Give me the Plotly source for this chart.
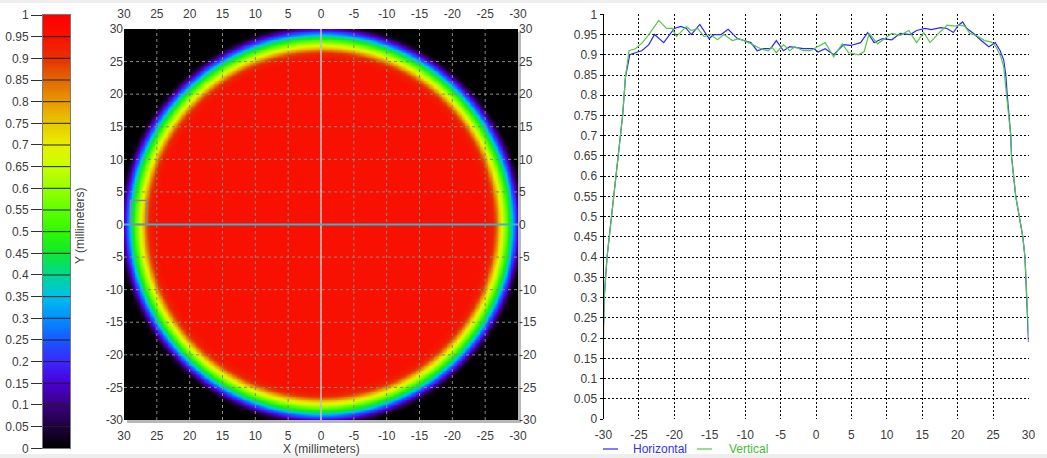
import numpy as np
import plotly.graph_objects as go

# ---------------- data ----------------
# Horizontal profile (blue)
h_x = [-30, -29.9, -29.5, -28.9, -28.25, -27.6, -27.3, -26.9, -26.5, -26.3, -25.5, -24.6, -23.6,
       -22.8, -21.5, -20.8, -20.0, -19.1, -18.3, -17.6, -16.4, -15.1, -14.4, -13.4, -12.4, -11.1,
       -9.2, -8.3, -7.4, -6.4, -5.6, -4.6, -3.7, -1.8, -0.9, -0.3, 0.3, 1.3, 2.5, 3.9, 4.9, 6.3,
       7.3, 8.2, 9.4, 10.7, 11.9, 13.3, 14.2, 15.4, 16.3, 17.6, 18.5, 19.4, 20.1, 20.7, 21.3, 22.2,
       23.2, 24.4, 25.3, 26.0, 26.5, 26.8, 27.0, 27.3, 27.5, 27.6, 27.9, 28.2, 28.7, 29.2, 29.5,
       29.6, 29.75, 29.9, 30.0]
h_y = [0.23, 0.30, 0.40, 0.50, 0.60, 0.70, 0.75, 0.845, 0.885, 0.90, 0.905, 0.91, 0.925,
       0.95, 0.93, 0.945, 0.965, 0.97, 0.965, 0.95, 0.975, 0.94, 0.95, 0.95, 0.963, 0.94,
       0.93, 0.91, 0.915, 0.915, 0.935, 0.91, 0.92, 0.915, 0.915, 0.915, 0.907, 0.915, 0.90, 0.925, 0.923, 0.93,
       0.955, 0.93, 0.94, 0.937, 0.953, 0.95, 0.96, 0.965, 0.962, 0.967, 0.965, 0.955, 0.973, 0.981, 0.965, 0.953,
       0.937, 0.92, 0.93, 0.91, 0.887, 0.85, 0.80, 0.74, 0.70, 0.65, 0.60, 0.55, 0.50, 0.45, 0.40,
       0.35, 0.30, 0.25, 0.19]

# Vertical profile (green)
v_x = [-30, -29.9, -29.5, -28.9, -28.25, -27.6, -27.3, -26.9, -26.6, -26.4, -25.5, -24.5, -23.6,
       -22.2, -21.1, -20.3, -19.7, -18.3, -17.6, -16.7, -15.8, -14.9, -13.9, -13.0, -11.8, -10.9,
       -9.5, -7.8, -6.7, -6.3, -5.6, -4.6, -3.7, -3.0, -1.8, -0.8, 1.3, 2.5, 3.7, 4.6, 6.0, 6.8,
       7.5, 8.7, 10.7, 11.9, 13.1, 14.2, 15.2, 16.1, 17.3, 18.5, 19.6, 20.3, 21.0, 21.7, 22.6,
       23.8, 24.7, 25.4, 26.1, 26.5, 26.9, 27.3, 27.5, 27.6, 27.9, 28.2, 28.7, 29.2, 29.5,
       29.6, 29.75, 29.9, 30.0]
v_y = [0.19, 0.30, 0.40, 0.50, 0.60, 0.70, 0.75, 0.845, 0.89, 0.91, 0.915, 0.93, 0.95,
       0.985, 0.965, 0.965, 0.945, 0.97, 0.96, 0.965, 0.945, 0.95, 0.937, 0.95, 0.935, 0.94,
       0.93, 0.915, 0.91, 0.92, 0.905, 0.925, 0.91, 0.92, 0.91, 0.91, 0.93, 0.895, 0.927, 0.905, 0.90, 0.908,
       0.953, 0.927, 0.953, 0.948, 0.96, 0.93, 0.955, 0.93, 0.953, 0.973, 0.971, 0.973, 0.971, 0.953, 0.948,
       0.935, 0.932, 0.92, 0.895, 0.87, 0.80, 0.74, 0.70, 0.65, 0.60, 0.55, 0.50, 0.45, 0.40,
       0.35, 0.30, 0.25, 0.21]

series_names = ["Horizontal", "Vertical"]
series_colors = ["#2828ff", "#55c844"]
series_text_colors = ["#3030ff", "#44bb33"]

# Radial intensity profile of the beam image (radius mm -> normalised intensity)
beam_r = [0, 25.0, 26.0, 26.5, 27.0, 27.5, 28.0, 28.5, 29.0, 29.5, 30.0, 30.5, 31.0, 45.0]
beam_v = [0.95, 0.95, 0.93, 0.88, 0.78, 0.68, 0.58, 0.48, 0.38, 0.25, 0.14, 0.04, 0.0, 0.0]

# Colour map stops
cmap_levels = [0.0, 0.05, 0.10, 0.15, 0.20, 0.25, 0.30, 0.35, 0.40, 0.45, 0.50,
               0.55, 0.60, 0.65, 0.70, 0.75, 0.80, 0.85, 0.90, 0.95, 1.0]
cmap_colors = ["#000000", "#200040", "#3a0080", "#4a00d8", "#3a28ff", "#1858ff", "#0090ff",
               "#00c0e8", "#00d890", "#10e830", "#30f800", "#60ff00", "#98ff00", "#c8ff00",
               "#e8f000", "#e8c800", "#e89800", "#e06800", "#e83000", "#f81000", "#ff0000"]

mm_ticks = [30, 25, 20, 15, 10, 5, 0, -5, -10, -15, -20, -25, -30]
mm_labels = ["30", "25", "20", "15", "10", "5", "0", "-5", "-10", "-15", "-20", "-25", "-30"]
px_ticks = [-30, -25, -20, -15, -10, -5, 0, 5, 10, 15, 20, 25, 30]
px_labels = ["-30", "-25", "-20", "-15", "-10", "-5", "0", "5", "10", "15", "20", "25", "30"]
val_ticks = [0, 0.05, 0.1, 0.15, 0.2, 0.25, 0.3, 0.35, 0.4, 0.45, 0.5,
             0.55, 0.6, 0.65, 0.7, 0.75, 0.8, 0.85, 0.9, 0.95, 1]

# ---------------- helpers ----------------
W, H = 1047, 458
def fx(p):
    return p / W
def fy(p):
    return 1 - p / H

colorscale = [[l, c] for l, c in zip(cmap_levels, cmap_colors)]
FONT = dict(family="Liberation Sans, Arial, sans-serif", size=12, color="#3c3c3c")

# beam image grid derived from the radial profile
g = np.arange(-30, 30.001, 0.25)
GX, GY = np.meshgrid(g, g)
Z = np.round(np.interp(np.sqrt(GX ** 2 + GY ** 2), beam_r, beam_v), 3)

fig = go.Figure()

fig.add_trace(go.Heatmap(x=g, y=g, z=Z, colorscale=colorscale, zmin=0, zmax=1,
                         showscale=False, zsmooth="best", xaxis="x", yaxis="y",
                         hoverinfo="skip"))
fig.add_trace(go.Scatter(x=[None], y=[None], xaxis="x4", yaxis="y4", showlegend=False,
                         hoverinfo="skip"))

cb_vals = np.linspace(0, 1, 201)
fig.add_trace(go.Heatmap(x=[0], y=cb_vals, z=[[v] for v in cb_vals], colorscale=colorscale,
                         zmin=0, zmax=1, showscale=False, xaxis="x3", yaxis="y3",
                         hoverinfo="skip"))

for xs, ys, nm, col in zip([h_x, v_x], [h_y, v_y], series_names, series_colors):
    fig.add_trace(go.Scatter(x=xs, y=ys, mode="lines", xaxis="x2", yaxis="y2", name=nm,
                             showlegend=False, line=dict(color=col, width=1.2)))

shapes = []
shapes.append(dict(type="rect", xref="paper", yref="paper", x0=0, x1=1, y0=fy(3), y1=1,
                   fillcolor="#eeeeee", line=dict(width=0), layer="below"))
shapes.append(dict(type="rect", xref="paper", yref="paper", x0=0, x1=1, y0=0, y1=fy(454),
                   fillcolor="#eeeeee", line=dict(width=0), layer="below"))
shapes.append(dict(type="rect", xref="paper", yref="paper", x0=fx(127), x1=fx(521),
                   y0=fy(423), y1=fy(32), fillcolor="#b8b8b8", line=dict(width=0), layer="below"))
for t in mm_ticks[1:-1]:
    shapes.append(dict(type="line", xref="x", yref="y domain", x0=t, x1=t, y0=0, y1=1,
                       line=dict(color="#8a8a8a", width=1, dash="3px,3px")))
    shapes.append(dict(type="line", xref="x domain", yref="y", x0=0, x1=1, y0=t, y1=t,
                       line=dict(color="#8a8a8a", width=1, dash="3px,3px")))
shapes.append(dict(type="line", xref="x", yref="y domain", x0=0, x1=0, y0=0, y1=1,
                   line=dict(color="#c8c0c0", width=1.5)))
shapes.append(dict(type="line", xref="x domain", yref="y", x0=0, x1=1, y0=0, y1=0,
                   line=dict(color="#3cb4c8", width=2)))
shapes.append(dict(type="rect", xref="x", yref="y", x0=29, x1=26.5, y0=0, y1=3.7,
                   line=dict(color="#8a8a8a", width=1.5)))
for t in val_ticks[1:-1]:
    shapes.append(dict(type="line", xref="x3 domain", yref="y3", x0=0, x1=1, y0=t, y1=t,
                       line=dict(color="#202020", width=1)))

# legend entries (short line sample + coloured label) below the profile chart
legend_line_x = [603, 697]
legend_text_x = [631, 727]
LEG_Y = 449
for i, nm in enumerate(series_names):
    shapes.append(dict(type="line", xref="paper", yref="paper",
                       x0=fx(legend_line_x[i]), x1=fx(legend_line_x[i] + 15),
                       y0=fy(LEG_Y), y1=fy(LEG_Y),
                       line=dict(color=series_colors[i], width=1.2)))

annotations = [
    dict(text="X (millimeters)", x=fx(321), y=fy(449), xref="paper", yref="paper",
         showarrow=False, font=FONT, xanchor="center", yanchor="middle"),
    dict(text="Y (millimeters)", x=fx(80), y=fy(226), xref="paper", yref="paper",
         showarrow=False, font=FONT, textangle=-90, xanchor="center", yanchor="middle"),
]
for i, nm in enumerate(series_names):
    annotations.append(dict(text=nm, x=fx(legend_text_x[i]), y=fy(LEG_Y), xref="paper",
                            yref="paper", showarrow=False, xanchor="left", yanchor="middle",
                            font=dict(family=FONT["family"], size=12,
                                      color=series_text_colors[i])))

heat_x = [fx(124), fx(518)]
heat_y = [fy(420), fy(29)]
common_mm = dict(range=[30, -30], tickvals=mm_ticks, ticktext=mm_labels, showgrid=False,
                 zeroline=False, ticks="outside", ticklen=5, tickcolor="rgba(0,0,0,0)",
                 tickfont=FONT, showline=False, automargin=False)
common_mm_y = dict(range=[-30, 30], tickvals=mm_ticks, ticktext=mm_labels, showgrid=False,
                   zeroline=False, ticks="", tickfont=FONT, showline=False, automargin=False)

fig.update_layout(
    width=W, height=H, autosize=False,
    margin=dict(l=0, r=0, t=0, b=0, pad=0),
    paper_bgcolor="white", plot_bgcolor="rgba(0,0,0,0)",
    font=FONT, showlegend=False,
    shapes=shapes, annotations=annotations,
    xaxis=dict(domain=heat_x, anchor="y", side="bottom", **common_mm),
    yaxis=dict(domain=heat_y, anchor="x", side="left", **common_mm_y),
    xaxis4=dict(overlaying="x", anchor="y", side="top", **common_mm),
    yaxis4=dict(overlaying="y", anchor="x", side="right", **common_mm_y),
    xaxis2=dict(domain=[fx(603.5), fx(1028.5)], anchor="y2", range=[-30, 30],
                tickvals=px_ticks, ticktext=px_labels, showgrid=True, gridcolor="#000000",
                griddash="2px,2px", gridwidth=1, zeroline=False, ticks="outside", ticklen=5,
                tickcolor="rgba(0,0,0,0)", showline=False, tickfont=FONT, automargin=False),
    yaxis2=dict(domain=[fy(419), fy(14.3)], anchor="x2", range=[0, 1], tickvals=val_ticks,
                showgrid=True, gridcolor="#000000", griddash="2px,2px", gridwidth=1,
                zeroline=False, ticks="outside", ticklen=3, tickcolor="#000000",
                showline=True, linecolor="#000000", linewidth=1, tickfont=FONT,
                automargin=False),
    xaxis3=dict(domain=[fx(43), fx(70)], anchor="y3", showticklabels=False, ticks="",
                showgrid=False, zeroline=False, showline=True, mirror=True,
                linecolor="#7a7a7a", linewidth=1, range=[-0.5, 0.5], automargin=False),
    yaxis3=dict(domain=[fy(448.3), fy(15)], anchor="x3", range=[0, 1], tickvals=val_ticks,
                ticks="outside", ticklen=11, tickcolor="#303030", showgrid=False,
                zeroline=False, showline=True, mirror=True, linecolor="#7a7a7a", linewidth=1,
                tickfont=FONT, automargin=False),
)

fig.write_html("out.html",
               config={"displayModeBar": False},
               post_script="document.body.style.margin='0';"
                           "document.body.style.overflow='hidden';")
